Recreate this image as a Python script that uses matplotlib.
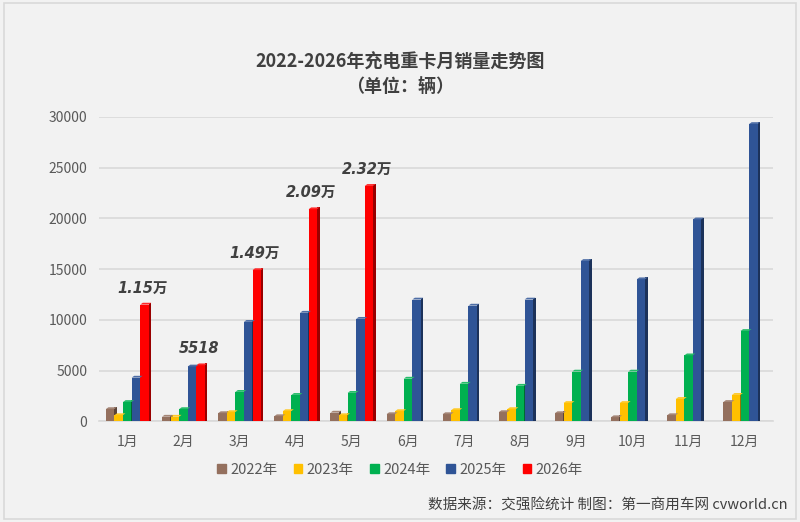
import numpy as np
import matplotlib.pyplot as plt
from matplotlib.patches import Rectangle
import matplotlib.colors as mcolors

plt.rcParams["font.family"] = ["Noto Sans CJK SC", "DejaVu Sans"]

# =========================================================
# DATA
# =========================================================
months = ["1月", "2月", "3月", "4月", "5月", "6月",
          "7月", "8月", "9月", "10月", "11月", "12月"]
years = ["2022年", "2023年", "2024年", "2025年", "2026年"]

sales_2022 = [1200, 450, 800, 500, 850, 700, 700, 900, 800, 400, 600, 1900]
sales_2023 = [600, 450, 900, 1000, 600, 1000, 1100, 1200, 1800, 1800, 2200, 2600]
sales_2024 = [1900, 1200, 2900, 2600, 2800, 4200, 3700, 3500, 4900, 4900, 6500, 8900]
sales_2025 = [4300, 5400, 9800, 10700, 10100, 12000, 11400, 12000, 15800, 14000, 19900, 29300]
sales_2026 = [11500, 5518, 14900, 20900, 23200]

labels_2026 = ["1.15万", "5518", "1.49万", "2.09万", "2.32万"]

colors = ["#94705E", "#FFC000", "#00B050", "#2F5496", "#FF0000"]

# =========================================================
# FIGURE
# =========================================================
fig = plt.figure(figsize=(8, 5.22), dpi=100)
fig.patch.set_facecolor("#F2F2F2")
fig.add_artist(Rectangle((0.005, 0.006), 0.99, 0.988, transform=fig.transFigure,
                         fill=False, edgecolor="#D9D9D9", linewidth=1.2))

ax = fig.add_axes([0.124, 0.193, 0.842, 0.583])
ax.set_facecolor("#F2F2F2")

series = [sales_2022, sales_2023, sales_2024, sales_2025, sales_2026]
w = 0.15       # front face width
d = 0.045      # side depth
dy = 180       # perspective lift of the side/top

x = np.arange(len(months))
for k, vals in enumerate(series):
    xs = x[:len(vals)] + (k - 2) * (w + 0.003)
    vals = np.array(vals)
    base = mcolors.to_rgb(colors[k])
    dark = tuple(c * 0.6 for c in base)
    light = tuple(min(1, c * 0.85 + 0.15) for c in base)
    # side face
    ax.bar(xs + w / 2, vals + dy, width=d, bottom=0, align="edge",
           color=dark, linewidth=0, zorder=3)
    # front face
    ax.bar(xs, vals, width=w, color=colors[k], linewidth=0, zorder=4,
           label=years[k])
    # top cap
    for xi, v in zip(xs, vals):
        ax.fill([xi - w / 2, xi + w / 2, xi + w / 2 + d, xi - w / 2 + d],
                [v, v, v + dy, v + dy], color=light, linewidth=0, zorder=5)

# data labels for 2026
xs26 = x[:len(sales_2026)] + 2 * (w + 0.003)
for xi, v, t in zip(xs26, sales_2026, labels_2026):
    ax.text(xi - 0.03, v + 900, t, ha="center", va="bottom", fontsize=10.5,
            fontweight="bold", fontstyle="italic", color="#404040", zorder=6,
            family=["DejaVu Sans", "Noto Sans CJK SC"])

ax.set_xlim(-0.5, 11.5)
ax.set_ylim(0, 30000)
ax.set_yticks(np.arange(0, 30001, 5000))
ax.set_xticks(x)
ax.set_xticklabels(months)
ax.tick_params(axis="both", length=0, labelsize=10, labelcolor="#595959")
ax.tick_params(axis="x", pad=10)
ax.tick_params(axis="y", pad=8.5)
ax.grid(axis="y", color="#D9D9D9", linewidth=1.2, zorder=0)
for s in ["top", "right", "left"]:
    ax.spines[s].set_visible(False)
ax.spines["bottom"].set_color("#D9D9D9")
ax.spines["bottom"].set_linewidth(1.2)
ax.set_axisbelow(True)

# titles
fig.text(0.5, 0.882, "2022-2026年充电重卡月销量走势图", ha="center", va="center",
         fontsize=13, fontweight="bold", color="#404040")
fig.text(0.5, 0.835, "（单位：辆）", ha="center", va="center",
         fontsize=13, fontweight="bold", color="#404040")

# legend
handles = [Rectangle((0, 0), 1, 1, color=c) for c in colors]
fig.legend(handles, years, loc="center", bbox_to_anchor=(0.5, 0.1),
           ncol=5, frameon=False, fontsize=10.5, handlelength=0.6,
           handleheight=0.6, handletextpad=0.3, columnspacing=1.1,
           labelcolor="#595959")

# source
fig.text(0.985, 0.032, "数据来源：交强险统计 制图：第一商用车网 cvworld.cn",
         ha="right", va="center", fontsize=10.5, color="#404040")

fig.savefig("out.png", dpi=100, facecolor=fig.get_facecolor())
